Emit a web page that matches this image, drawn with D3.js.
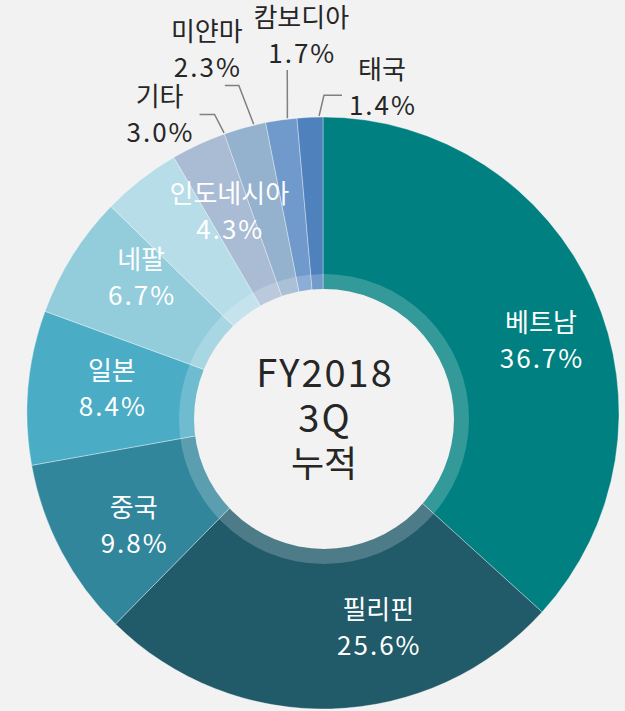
<!DOCTYPE html>
<html>
<head>
<meta charset="utf-8">
<script src="https://cdn.jsdelivr.net/npm/d3@7"></script>
<style>
  html, body { margin: 0; padding: 0; background: #f2f2f2; }
  svg { display: block; font-family: "Noto Sans CJK KR", "Noto Sans", sans-serif; }
</style>
</head>
<body>
<svg id="chart" width="625" height="711"></svg>
<script>
// 국가별 비중 (FY2018 3Q 누적) - 12시 방향부터 시계방향
const countries = ["베트남", "필리핀", "중국", "일본", "네팔", "인도네시아", "기타", "미얀마", "캄보디아", "태국"];
const shares = [36.7, 25.6, 9.8, 8.4, 6.7, 4.3, 3.0, 2.3, 1.7, 1.4];
const sliceColors = ["#008080", "#215a69", "#31869c", "#4bacc6", "#93cddc", "#b7dde8", "#aabcd4", "#94b1cd", "#7099cc", "#4f81bd"];
const centerLines = ["FY2018", "3Q", "누적"];

// label nudges from the slice centroid (layout only)
const labelNudge = [[15, 17], [49, -8], [7, 9], [10, -5], [6, -17], [43, -27], [-39, -30], [-38, -78], [20, -85], [72, -30]];
// leader lines for the small slices: where on the slice, end offset from label, elbow length
const leaderCfg = { 6: [1.0, 40, 0, 15], 7: [0.72, 18, 36, 14], 8: [0.7, -14, 35, 0], 9: [0.85, -40, 8, -18] };

const svg = d3.select("#chart"),
  cx = 323, cy = 413, outerR = 296, labelR = 222;
const g = svg.append("g").attr("transform", "translate(" + cx + "," + cy + ")");

const data = countries.map((c, i) => ({ name: c, share: shares[i], color: sliceColors[i], i: i }));

const pie = d3.pie().sort(null).value(d => d.share);
const arcs = pie(data);

const path = d3.arc().innerRadius(0).outerRadius(outerR);
const inLabel = d3.arc().innerRadius(labelR).outerRadius(labelR);
const outLabel = d3.arc().innerRadius(outerR).outerRadius(outerR);

g.selectAll(".slice")
  .data(arcs)
  .enter().append("path")
  .attr("class", "slice")
  .attr("d", path)
  .attr("fill", d => d.data.color)
  .attr("stroke", "#ffffff")
  .attr("stroke-opacity", 0.5)
  .attr("stroke-width", 0.7);

// translucent ring + centre disc
const hole = svg.append("g").attr("transform", "translate(" + (cx + 1) + "," + (cy + 6) + ")");
hole.append("circle").attr("r", 145).attr("fill", "#ffffff").attr("fill-opacity", 0.2);
hole.append("circle").attr("r", 130).attr("fill", "#f2f2f2");

hole.append("text")
  .attr("text-anchor", "middle")
  .attr("fill", "#262626")
  .selectAll("tspan")
  .data(centerLines)
  .enter().append("tspan")
  .attr("x", (d, i) => i < 2 ? 1 : 0)
  .attr("y", (d, i) => (i - 1) * 45 + 13)
  .attr("font-size", (d, i) => i < 2 ? 38 : 36)
  .attr("letter-spacing", (d, i) => i < 2 ? 2 : 0)
  .text(d => d);

function isOutside(d) { return d.data.share < 4; }

function labelPos(d) {
  const c = isOutside(d) ? outLabel.centroid(d) : inLabel.centroid(d);
  const n = labelNudge[d.data.i];
  return [c[0] + n[0], c[1] + n[1]];
}

const fs = 26;
const labels = g.selectAll(".lbl")
  .data(arcs)
  .enter().append("text")
  .attr("class", "lbl")
  .attr("text-anchor", "middle")
  .attr("font-size", fs)
  .attr("fill", d => isOutside(d) ? "#262626" : "#ffffff");

labels.append("tspan")
  .attr("x", d => labelPos(d)[0])
  .attr("y", d => labelPos(d)[1] - 18 + 0.37 * fs)
  .text(d => d.data.name);
labels.append("tspan")
  .attr("x", d => labelPos(d)[0] + 1)
  .attr("y", d => labelPos(d)[1] + 18 + 0.37 * fs)
  .attr("letter-spacing", 2)
  .text(d => d3.format(".1f")(d.data.share) + "%");

// leader lines
const leaderData = arcs.filter(d => leaderCfg[d.data.i]);
g.selectAll(".leader")
  .data(leaderData)
  .enter().append("polyline")
  .attr("class", "leader")
  .attr("fill", "none")
  .attr("stroke", "#808080")
  .attr("stroke-width", 1.5)
  .attr("points", d => {
    const cfg = leaderCfg[d.data.i];
    const a = d.startAngle + (d.endAngle - d.startAngle) * cfg[0];
    const p0 = [Math.sin(a) * (outerR + 1), -Math.cos(a) * (outerR + 1)];
    const lp = labelPos(d);
    const end = [lp[0] + cfg[1], lp[1] + cfg[2]];
    const elbow = [end[0] + cfg[3], end[1]];
    return [p0, elbow, end].map(p => p.join(",")).join(" ");
  });
</script>
</body>
</html>
